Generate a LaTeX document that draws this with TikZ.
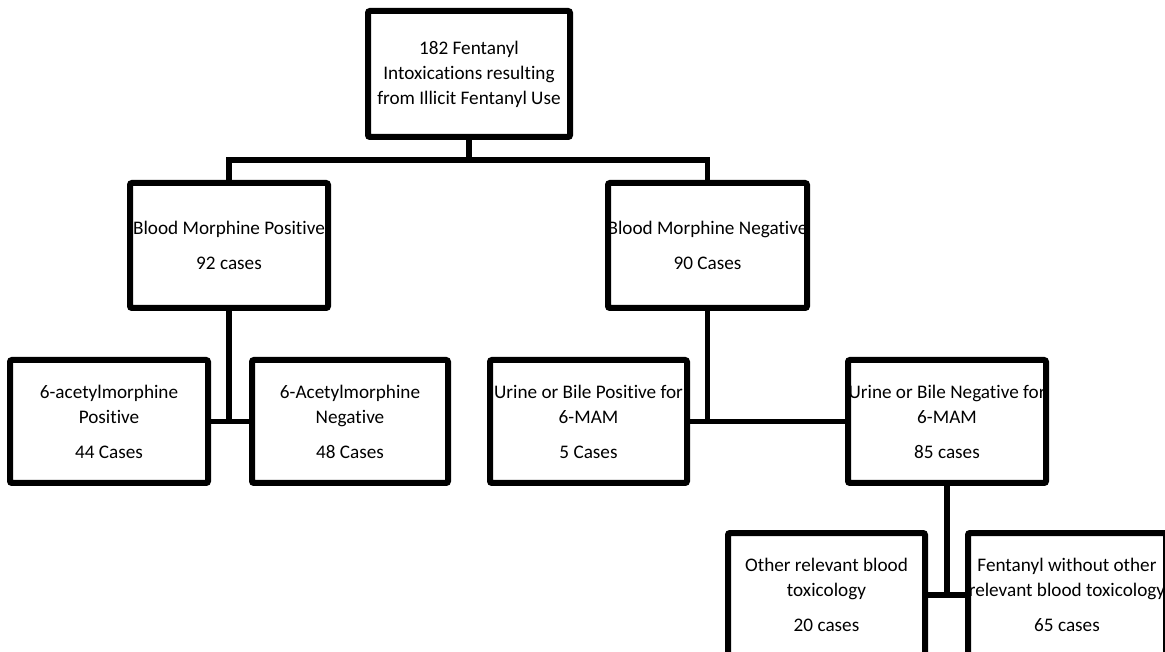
\documentclass[tikz,border=0pt]{standalone}
\usepackage{fontspec}
\setmainfont{Carlito}[Ligatures=NoCommon]
\usetikzlibrary{calc}
\tikzset{
	casebox/.style={
			draw=black, line width=4.5pt, rounded corners=1.5pt, fill=white,
			inner sep=0pt, minimum width=#1*0.75pt
		},
	casebox/.default=198,
	casetext/.style={
			align=center, inner sep=0pt,
			font=\fontsize{14.4pt}{18.75pt}\selectfont
		},
	link/.style={draw=black, line width=4pt}
}

\begin{document}
\begin{tikzpicture}[x=0.75pt,y=-0.75pt]
		\useasboundingbox (0,0) rectangle (1165,652);
		% boxes
		\node [casebox=202, minimum height=94.5pt] (fent) at (469,74) {};
		\node [casebox, minimum height=93.75pt] (bmp) at (229,245.5) {};
		\node [casebox=199, minimum height=93.75pt] (bmn) at (707.5,245.5) {};
		\node [casebox, minimum height=92.25pt] (amp) at (109,421.5) {};
		\node [casebox=196, minimum height=92.25pt] (amn) at (350,421.5) {};
		\node [casebox=197, minimum height=92.25pt] (ubp) at (588.5,421.5) {};
		\node [casebox, minimum height=92.25pt] (ubn) at (947,421.5) {};
		\node [casebox=197, minimum height=93pt] (orb) at (826.5,595) {};
		\node [casebox, minimum height=93pt] (fwo) at (1067,595) {};
		% connectors
		\coordinate (split1) at (469,160);
		\coordinate (split3) at (947,595);
		\draw [link] (fent.south) -- (split1);
		\draw [link] (bmp.north) |- (split1) -| (bmn.north);
		\draw [link] (bmp.south) -- (bmp.south |- amp.east);
		\draw [link] (amp) -- (amn);
		\draw [link] (bmn.south) -- (bmn.south |- ubp.east);
		\draw [link] (ubp) -- (ubn);
		\draw [link] (ubn.south) -- (split3);
		\draw [link] (orb.east |- split3) -- (fwo.west |- split3);
		% texts
		\node [casetext] at (fent.center) {182 Fentanyl\\Intoxications resulting\\from Illicit Fentanyl Use};
		\node [casetext] at (bmp.center) {Blood Morphine Positive\\[7.5pt]92 cases};
		\node [casetext] at (bmn.center) {Blood Morphine Negative\\[7.5pt]90 Cases};
		\node [casetext] at (amp.center) {6-acetylmorphine\\Positive\\[7.5pt]44 Cases};
		\node [casetext] at (amn.center) {6-Acetylmorphine\\Negative\\[7.5pt]48 Cases};
		\node [casetext] at (ubp.center) {Urine or Bile Positive for\\6-MAM\\[7.5pt]5 Cases};
		\node [casetext] at (ubn.center) {Urine or Bile Negative for\\6-MAM\\[7.5pt]85 cases};
		\node [casetext] at (orb.center) {Other relevant blood\\toxicology\\[7.5pt]20 cases};
		\node [casetext] at (fwo.center) {Fentanyl without other\\relevant blood toxicology\\[7.5pt]65 cases};
	\end{tikzpicture}
\end{document}
